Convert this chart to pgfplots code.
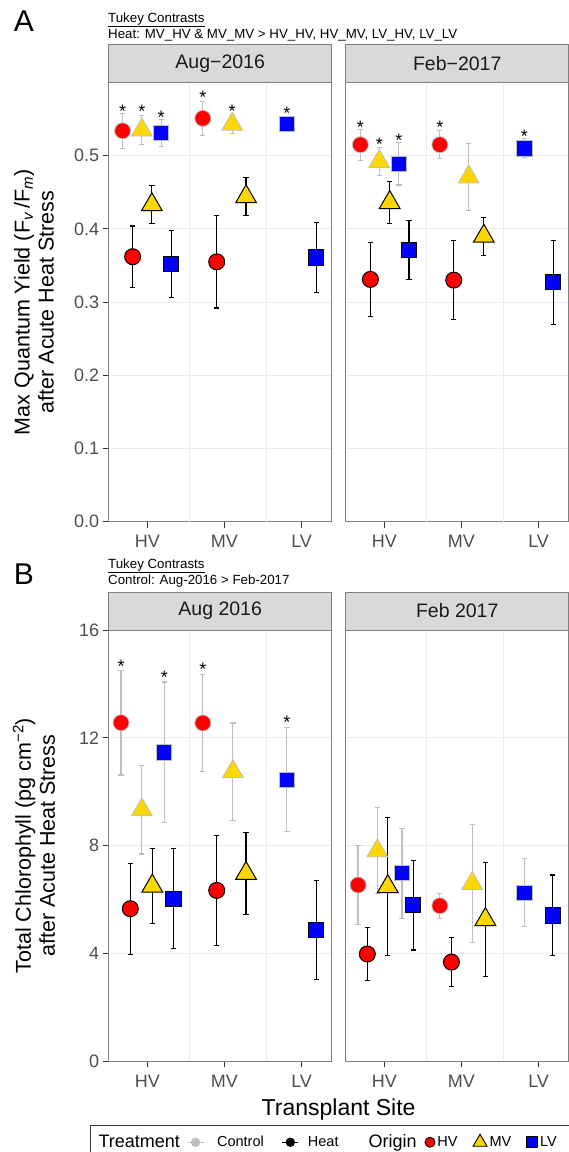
\documentclass[border=0pt]{standalone}
\usepackage{fontspec}
\setmainfont{Liberation Sans}
\usepackage{pgfplots}
\usepackage{pgfplotstable}
\pgfplotsset{compat=1.18}

\definecolor{ptred}{HTML}{FF0000}
\definecolor{ptgold}{HTML}{FFD700}
\definecolor{ptblue}{HTML}{0000FF}
\definecolor{ctrlgray}{HTML}{BEBEBE}
\definecolor{gridgray}{HTML}{EBEBEB}
\definecolor{framegray}{HTML}{7F7F7F}
\definecolor{tickgray}{HTML}{333333}
\definecolor{stripgray}{HTML}{D9D9D9}
\definecolor{ticktxt}{HTML}{4D4D4D}
\definecolor{striptxt}{HTML}{1A1A1A}

% one table per panel; row 1 / row 2 = the two sites where each origin was measured
% c = Control, h = Heat; x = dodged position, y = mean, e = half width of the bar
\pgfplotstableread{
cHVx cHVy cHVe cMVx cMVy cMVe cLVx cLVy cLVe hHVx hHVy hHVe hMVx hMVy hMVe hLVx hLVy hLVe
0.68 0.534 0.024 0.93 0.535 0.020 1.18 0.531 0.019 0.81 0.362 0.042 1.06 0.433 0.026 1.31 0.352 0.046
1.72 0.551 0.023 2.10 0.543 0.013 2.81 0.543 0.008 1.90 0.355 0.063 2.28 0.444 0.026 3.19 0.361 0.048
}\tabAaug
\pgfplotstableread{
cHVx cHVy cHVe cMVx cMVy cMVe cLVx cLVy cLVe hHVx hHVy hHVe hMVx hMVy hMVe hLVx hLVy hLVe
0.69 0.515 0.021 0.935 0.492 0.019 1.19 0.489 0.029 0.82 0.331 0.051 1.07 0.436 0.029 1.32 0.371 0.040
1.72 0.515 0.019 2.094 0.471 0.046 2.815 0.510 0.013 1.90 0.330 0.054 2.29 0.390 0.026 3.19 0.327 0.057
}\tabAfeb
\pgfplotstableread{
cHVx cHVy cHVe cMVx cMVy cMVe cLVx cLVy cLVe hHVx hHVy hHVe hMVx hMVy hMVe hLVx hLVy hLVe
0.66 12.56 1.94 0.93 9.33 1.64 1.22 11.46 2.61 0.78 5.66 1.69 1.065 6.50 1.38 1.34 6.03 1.85
1.72 12.55 1.81 2.11 10.75 1.80 2.81 10.45 1.93 1.90 6.34 2.03 2.28 6.97 1.52 3.19 4.86 1.84
}\tabBaug
\pgfplotstableread{
cHVx cHVy cHVe cMVx cMVy cMVe cLVx cLVy cLVe hHVx hHVy hHVe hMVx hMVy hMVe hLVx hLVy hLVe
0.66 6.54 1.45 0.91 7.81 1.60 1.23 6.98 1.67 0.78 3.98 0.99 1.045 6.48 2.56 1.375 5.79 1.66
1.72 5.77 0.46 2.14 6.60 2.18 2.815 6.26 1.25 1.87 3.68 0.91 2.31 5.26 2.12 3.185 5.41 1.50
}\tabBfeb

\pgfplotsset{
  panel/.style={
    scale only axis, width=223pt,
    xmin=0.5, xmax=3.39,
    xtick={1,2,3}, xticklabels={HV,MV,LV},
    extra x ticks={1.545,2.545}, extra x tick labels={},
    extra x tick style={grid=major, tick style={draw=none}},
    ymajorgrids, grid style={gridgray, line width=0.9pt},
    axis line style={framegray, line width=0.9pt},
    tick style={tickgray, line width=0.9pt},
    tick align=outside, major tick length=6pt, tick pos=left,
    ticklabel style={font=\fontsize{18}{18}\selectfont, text=ticktxt},
    xticklabel style={yshift=-4pt},
    /pgf/number format/assume math mode=true,
    clip=false,
  },
  ctrlbar/.style={draw=none, mark=none, forget plot,
    error bars/.cd, y dir=both, y explicit,
    error bar style={draw=ctrlgray, line width=1.1pt},
    error mark options={draw=ctrlgray, rotate=90, line width=1.1pt, mark size=2.6pt}},
  heatbar/.style={draw=none, mark=none, forget plot,
    error bars/.cd, y dir=both, y explicit,
    error bar style={draw=black, line width=1.1pt},
    error mark options={draw=black, rotate=90, line width=1.1pt, mark size=2.6pt}},
}
\tikzset{astk/.style={font=\fontsize{18}{18}\selectfont, inner sep=0pt, anchor=base, yshift=-10.5pt}}

\newcommand{\panelplots}[1]{%
  \addplot[only marks, forget plot, mark=*, mark size=8pt, mark options={draw=ctrlgray, fill=ptred, line width=0.8pt}] table[x=cHVx, y=cHVy]{#1};
  \addplot[only marks, forget plot, mark=triangle*, mark size=12pt, mark options={draw=ctrlgray, fill=ptgold, line width=0.8pt}] table[x=cMVx, y=cMVy]{#1};
  \addplot[only marks, forget plot, mark=square*, mark size=7.6pt, mark options={draw=ctrlgray, fill=ptblue, line width=0.8pt}] table[x=cLVx, y=cLVy]{#1};
  \addplot[only marks, forget plot, mark=*, mark size=8pt, mark options={draw=black, fill=ptred, line width=1pt}] table[x=hHVx, y=hHVy]{#1};
  \addplot[only marks, forget plot, mark=triangle*, mark size=12pt, mark options={draw=black, fill=ptgold, line width=1pt}] table[x=hMVx, y=hMVy]{#1};
  \addplot[only marks, forget plot, mark=square*, mark size=7.6pt, mark options={draw=black, fill=ptblue, line width=1pt}] table[x=hLVx, y=hLVy]{#1};
  \addplot[ctrlbar] table[x=cHVx, y=cHVy, y error=cHVe]{#1};
  \addplot[ctrlbar] table[x=cMVx, y=cMVy, y error=cMVe]{#1};
  \addplot[ctrlbar] table[x=cLVx, y=cLVy, y error=cLVe]{#1};
  \addplot[heatbar] table[x=hHVx, y=hHVy, y error=hHVe]{#1};
  \addplot[heatbar] table[x=hMVx, y=hMVy, y error=hMVe]{#1};
  \addplot[heatbar] table[x=hLVx, y=hLVy, y error=hLVe]{#1};
}

\newcommand{\strip}[1]{%
  \draw[fill=stripgray, draw=framegray, line width=0.9pt] (rel axis cs:0,1) rectangle ([yshift=38pt]rel axis cs:1,1);
  \node[font=\fontsize{19.5}{20}\selectfont, text=striptxt] at ([yshift=19pt]rel axis cs:0.5,1) {#1};
}

\begin{document}
\begin{tikzpicture}
\useasboundingbox (0,0) rectangle (569pt,-1152pt);

% ---------- panel A ----------
\node[font=\fontsize{30}{30}\selectfont] at (24pt,-21pt) {A};
\node[anchor=base west, inner sep=0pt, font=\fontsize{13.3}{13}\selectfont] at (108pt,-22pt) {\underline{Tukey Contrasts}};
\node[anchor=base west, inner sep=0pt, font=\fontsize{13.3}{13}\selectfont] at (108pt,-38pt) {Heat: MV\_HV \& MV\_MV > HV\_HV, HV\_MV, LV\_HV, LV\_LV};

\begin{axis}[panel, at={(108.7pt,-82.5pt)}, anchor=north west, height=439.2pt,
  ymin=0, ymax=0.6, ytick={0,0.1,0.2,0.3,0.4,0.5},
  yticklabel style={/pgf/number format/.cd, fixed, fixed zerofill, precision=1},
  ylabel={Max Quantum Yield (F\textsubscript{\textit{v}}\,/F\textsubscript{\textit{m}})\\after Acute Heat Stress},
  ylabel style={font=\fontsize{21.5}{24}\selectfont, align=center, at={(axis description cs:-0.335,0.5)}, anchor=center}]
\panelplots{\tabAaug}
\strip{Aug−2016}
\node[astk] at (axis cs:0.68,0.567) {*};
\node[astk] at (axis cs:0.93,0.567) {*};
\node[astk] at (axis cs:1.18,0.559) {*};
\node[astk] at (axis cs:1.72,0.585) {*};
\node[astk] at (axis cs:2.10,0.567) {*};
\node[astk] at (axis cs:2.81,0.564) {*};
\end{axis}

\begin{axis}[panel, at={(345.7pt,-82.5pt)}, anchor=north west, height=439.2pt,
  ymin=0, ymax=0.6, ytick={0,0.1,0.2,0.3,0.4,0.5}, yticklabels={}, ytick style={draw=none}]
\panelplots{\tabAfeb}
\strip{Feb−2017}
\node[astk] at (axis cs:0.69,0.545) {*};
\node[astk] at (axis cs:0.935,0.522) {*};
\node[astk] at (axis cs:1.19,0.527) {*};
\node[astk] at (axis cs:1.72,0.545) {*};
\node[astk] at (axis cs:2.815,0.533) {*};
\end{axis}

% ---------- panel B ----------
\node[font=\fontsize{30}{30}\selectfont] at (24pt,-574.5pt) {B};
\node[anchor=base west, inner sep=0pt, font=\fontsize{13.3}{13}\selectfont] at (108pt,-568.5pt) {\underline{Tukey Contrasts}};
\node[anchor=base west, inner sep=0pt, font=\fontsize{13.3}{13}\selectfont] at (108pt,-584.5pt) {Control: Aug-2016 > Feb-2017};

\begin{axis}[panel, at={(108.7pt,-630pt)}, anchor=north west, height=431.3pt,
  ymin=0, ymax=16, ytick={0,4,8,12,16},
  ylabel={Total Chlorophyll (pg cm\textsuperscript{−2})\\after Acute Heat Stress},
  ylabel style={font=\fontsize{21.5}{24}\selectfont, align=center, at={(axis description cs:-0.335,0.5)}, anchor=center},
  xlabel={Transplant Site},
  xlabel style={font=\fontsize{23}{23}\selectfont, at={(axis description cs:1.031,-0.111)}, anchor=center},
  legend columns=-1,
  legend style={at={(axis description cs:-0.084,-0.148)}, anchor=north west,
    draw=black!80, line width=1.3pt, fill=white,
    inner xsep=6pt, inner ysep=8pt,
    font=\fontsize{14.5}{15}\selectfont,
    nodes={inner sep=0pt, text depth=0.2em},
    /tikz/every odd column/.append style={column sep=2pt},
    /tikz/every even column/.append style={column sep=0pt}},
  legend cell align=left]
\panelplots{\tabBaug}
\strip{Aug 2016}
\node[astk] at (axis cs:0.66,14.82) {*};
\node[astk] at (axis cs:1.22,14.39) {*};
\node[astk] at (axis cs:1.72,14.70) {*};
\node[astk] at (axis cs:2.81,12.72) {*};
\addlegendimage{legend image code/.code={}}
\addlegendentry{\fontsize{18}{18}\selectfont Treatment\rule{7pt}{0pt}}
\addlegendimage{legend image code/.code={\draw[ctrlgray, line width=1.1pt] (0pt,0pt) -- (16pt,0pt); \fill[ctrlgray] (8pt,0pt) circle (4pt);}}
\addlegendentry{\rule{11pt}{0pt}Control\rule{18pt}{0pt}}
\addlegendimage{legend image code/.code={\draw[black, line width=1.1pt] (0pt,0pt) -- (16pt,0pt); \fill[black] (8pt,0pt) circle (4pt);}}
\addlegendentry{\rule{7pt}{0pt}Heat\rule{28pt}{0pt}}
\addlegendimage{legend image code/.code={}}
\addlegendentry{\fontsize{18}{18}\selectfont Origin\rule{8pt}{0pt}}
\addlegendimage{legend image code/.code={\draw[black, fill=ptred, line width=0.9pt] (5pt,0pt) circle (5pt);}}
\addlegendentry{HV\rule{15pt}{0pt}}
\addlegendimage{legend image code/.code={\draw[black, fill=ptgold, line width=0.9pt] (0pt,-4pt) -- (14pt,-4pt) -- (7pt,8pt) -- cycle;}}
\addlegendentry{MV\rule{15pt}{0pt}}
\addlegendimage{legend image code/.code={\draw[black, fill=ptblue, line width=0.9pt] (0pt,-5.5pt) rectangle (11pt,5.5pt);}}
\addlegendentry{LV\rule{20pt}{0pt}}
\end{axis}

\begin{axis}[panel, at={(345.7pt,-630pt)}, anchor=north west, height=431.3pt,
  ymin=0, ymax=16, ytick={0,4,8,12,16}, yticklabels={}, ytick style={draw=none}]
\panelplots{\tabBfeb}
\strip{Feb 2017}
\end{axis}
\end{tikzpicture}
\end{document}
